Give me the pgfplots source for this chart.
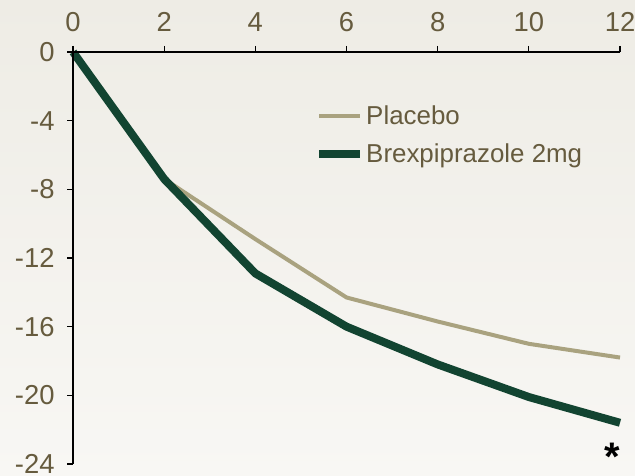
\documentclass[border=0pt]{standalone}
\usepackage{pgfplots}
\pgfplotsset{compat=1.18}
\usepackage{fontspec}
\setmainfont{Liberation Sans}
\definecolor{txt}{HTML}{665B3E}
\definecolor{plac}{HTML}{A9A27F}
\definecolor{brex}{HTML}{124431}
\definecolor{bgtop}{HTML}{EEECE5}
\definecolor{bgbot}{HTML}{F8F7F4}
\begin{document}
\begin{tikzpicture}
\begin{axis}[
  scale only axis, width=547bp, height=412bp,
  xmin=0, xmax=12, ymin=-24, ymax=0,
  axis x line=top, axis y line=left,
  axis line style={-, black, line width=1.2bp},
  xtick={0,2,...,12}, ytick={-24,-20,...,0},
  tick align=outside, major tick length=6bp,
  tick style={black, line width=1.2bp},
  ticklabel style={font=\fontsize{27.5}{30}\selectfont, text=txt},
  xticklabel style={yshift=11bp},
  yticklabel style={xshift=-9bp},
  /pgf/number format/assume math mode=true,
  axis on top, clip=false,
  legend style={draw=none, fill=none, at={(0.437,0.88)}, anchor=north west,
    font=\fontsize{26}{30}\selectfont, text=txt, row sep=14bp, cells={anchor=west}},
  legend image code/.code={\draw[#1, line cap=round] (4bp,0bp) -- (27bp,0bp);
    \path (0bp,0bp) -- (41bp,0bp);},
]
\coordinate (bl) at (rel axis cs:-0.1335,-0.0291);
\coordinate (tr) at (rel axis cs:1.0274,1.1262);
\shade[top color=bgtop, bottom color=bgbot] (bl) rectangle (tr);
\addplot[plac, line width=4bp, line join=round] coordinates {
  (0,0) (2,-7.4) (4,-10.9) (6,-14.3) (8,-15.7) (10,-17.0) (12,-17.8)};
\addlegendentry{Placebo}
\addplot[brex, line width=8bp, line join=round] coordinates {
  (0,0) (2,-7.4) (4,-12.9) (6,-16.0) (8,-18.2) (10,-20.1) (12,-21.6)};
\addlegendentry{Brexpiprazole 2mg}
\node[anchor=base, inner sep=0pt, font=\fontsize{40}{40}\selectfont\bfseries] at (axis cs:11.84,-24.4) {*};
\end{axis}
\pgfresetboundingbox
\path[use as bounding box] (bl) rectangle (tr);
\end{tikzpicture}
\end{document}
